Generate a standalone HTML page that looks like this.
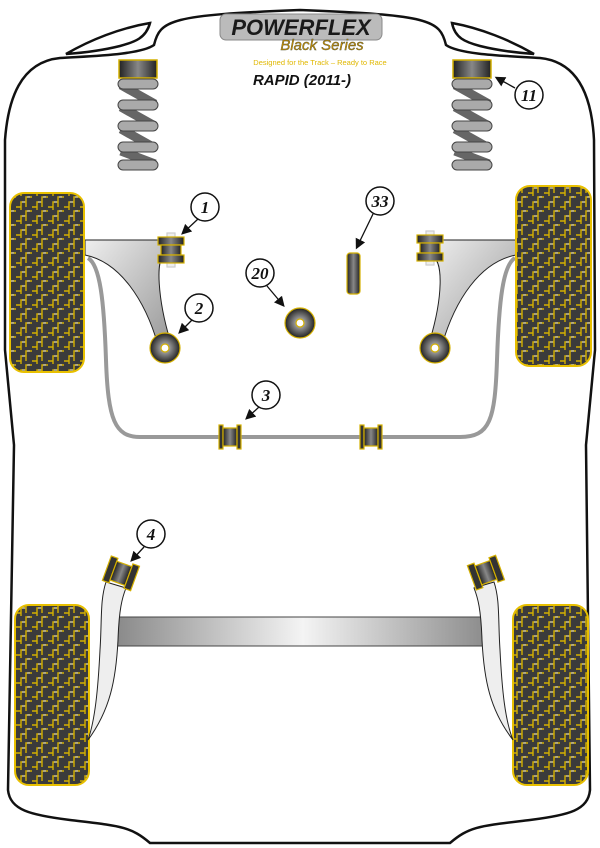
<!DOCTYPE html>
<html><head><meta charset="utf-8"><style>
html,body{margin:0;padding:0;background:#fff;width:600px;height:848px;overflow:hidden}
</style></head><body>
<svg width="600" height="848" viewBox="0 0 600 848" xmlns="http://www.w3.org/2000/svg" font-family="Liberation Serif, serif">
<defs>
<pattern id="tread" width="16" height="14" patternUnits="userSpaceOnUse">
<rect width="16" height="14" fill="#3b3b3b"/>
<path d="M0 11 H5 V6 H10 V1 H16 M5 11 V14 M10 6 V11 M13 1 V0" stroke="#d4b000" stroke-width="1.4" fill="none"/>
<path d="M6 6 H9 M11 1 H14" stroke="#bbb" stroke-width="1.2" fill="none"/>
</pattern>
<linearGradient id="bush" x1="0" x2="1" y1="0" y2="0">
<stop offset="0" stop-color="#222"/><stop offset=".5" stop-color="#888"/><stop offset="1" stop-color="#222"/>
</linearGradient>
<linearGradient id="bar" x1="0" x2="1">
<stop offset="0" stop-color="#8a8a8a"/><stop offset=".5" stop-color="#f4f4f4"/><stop offset="1" stop-color="#8a8a8a"/>
</linearGradient>
<linearGradient id="arm" x1="0" x2="1" y1="0" y2="1">
<stop offset="0" stop-color="#eee"/><stop offset="1" stop-color="#999"/>
</linearGradient>
<radialGradient id="rb"><stop offset=".3" stop-color="#999"/><stop offset="1" stop-color="#222"/></radialGradient>
<marker id="ah" markerWidth="8" markerHeight="8" refX="6" refY="4" orient="auto"><path d="M0 0 L8 4 L0 8z" fill="#111"/></marker>
</defs>

<!-- body outline -->
<path d="M60 58 C90 56 140 55 154 45 C160 20 170 15 300 10 C430 15 440 20 446 45 C460 55 510 56 540 58 C580 62 592 100 594 140 L595 350 L586 445 L590 790 C588 810 570 815 530 820 C480 826 470 826 450 843 L150 843 C130 826 120 826 70 820 C30 815 10 810 8 790 L14 445 L5 350 L5 140 C8 100 20 62 60 58 Z" fill="#fff" stroke="#111" stroke-width="2.5"/>
<!-- headlights -->
<path d="M66 54 C90 40 120 28 150 23 C146 38 135 42 120 46 C100 51 80 53 66 54Z" fill="#fff" stroke="#111" stroke-width="2.5"/>
<path d="M534 54 C510 40 480 28 452 23 C455 38 465 42 480 46 C500 51 520 53 534 54Z" fill="#fff" stroke="#111" stroke-width="2.5"/>

<!-- logo -->
<rect x="220" y="14" width="162" height="26" rx="6" fill="#bbb" stroke="#888"/>
<text x="301" y="35" text-anchor="middle" font-size="22" font-weight="bold" font-style="italic" fill="#1a1a1a" font-family="Liberation Sans, sans-serif">POWERFLEX</text>
<text x="322" y="50" text-anchor="middle" font-size="15" font-style="italic" fill="#c98f00" stroke="#553" stroke-width=".4" font-family="Liberation Sans, sans-serif">Black Series</text>
<text x="320" y="65" text-anchor="middle" font-size="7.5" fill="#e0b800" font-family="Liberation Sans, sans-serif">Designed for the Track – Ready to Race</text>
<text x="302" y="85" text-anchor="middle" font-size="15" font-weight="bold" font-style="italic" fill="#111" font-family="Liberation Sans, sans-serif">RAPID (2011-)</text>

<!-- springs -->
<g id="spL">
<rect x="119" y="60" width="38" height="18" fill="url(#bush)" stroke="#d4b000" stroke-width="1.5"/>
<path d="M121 85 L155 104 M121 107 L155 126 M121 129 L155 148 M121 151 L155 164" stroke="#666" stroke-width="9"/>
<g fill="#aaa" stroke="#444" stroke-width="1">
<rect x="118" y="79" width="40" height="10" rx="5"/><rect x="118" y="100" width="40" height="10" rx="5"/><rect x="118" y="121" width="40" height="10" rx="5"/><rect x="118" y="142" width="40" height="10" rx="5"/><rect x="118" y="160" width="40" height="10" rx="5"/>
</g></g>
<use href="#spL" transform="translate(334 0)"/>

<!-- front anti-roll bar -->
<path d="M88 258 C100 265 104 300 106 360 C108 420 115 437 140 437 L460 437 C490 437 495 420 497 360 C499 300 503 265 515 258" fill="none" stroke="#999" stroke-width="4"/>
<!-- front arms -->
<path d="M85 240 L165 240 L165 255 C155 258 158 300 170 340 L158 345 C145 300 120 262 85 255Z" fill="url(#arm)" stroke="#222" stroke-width="1"/>
<path d="M516 240 L430 240 L430 255 C445 258 442 300 430 340 L442 345 C455 300 480 262 516 255Z" fill="url(#arm)" stroke="#222" stroke-width="1"/>

<!-- tyres -->
<g fill="url(#tread)" stroke="#e8c000" stroke-width="2">
<rect x="10" y="193" width="74" height="179" rx="14"/>
<rect x="516" y="186" width="75" height="180" rx="14"/>
<rect x="15" y="605" width="74" height="180" rx="14"/>
<rect x="513" y="605" width="75" height="180" rx="14"/>
</g>

<!-- bushings -->
<g stroke="#d4b000" stroke-width="1.2">
<rect x="167" y="233" width="8" height="34" fill="#eee" stroke="#ccc"/>
<rect x="158" y="237" width="26" height="8" fill="url(#bush)"/><rect x="161" y="245" width="20" height="10" fill="url(#bush)"/><rect x="158" y="255" width="26" height="8" fill="url(#bush)"/>
<rect x="426" y="231" width="8" height="34" fill="#eee" stroke="#ccc"/>
<rect x="417" y="235" width="26" height="8" fill="url(#bush)"/><rect x="420" y="243" width="20" height="10" fill="url(#bush)"/><rect x="417" y="253" width="26" height="8" fill="url(#bush)"/>
<circle cx="165" cy="348" r="15" fill="url(#rb)"/><circle cx="165" cy="348" r="4" fill="#fff"/>
<circle cx="435" cy="348" r="15" fill="url(#rb)"/><circle cx="435" cy="348" r="4" fill="#fff"/>
<circle cx="300" cy="323" r="15" fill="url(#rb)"/><circle cx="300" cy="323" r="4" fill="#fff"/>
<rect x="347" y="253" width="13" height="41" rx="3" fill="url(#bush)"/>
<rect x="219" y="425" width="4" height="24" fill="#333"/><rect x="223" y="428" width="14" height="18" fill="url(#bush)"/><rect x="237" y="425" width="4" height="24" fill="#333"/>
<rect x="360" y="425" width="4" height="24" fill="#333"/><rect x="364" y="428" width="14" height="18" fill="url(#bush)"/><rect x="378" y="425" width="4" height="24" fill="#333"/>
</g>

<!-- rear crossbar and arms -->
<rect x="117" y="617" width="372" height="29" fill="url(#bar)" stroke="#444"/>
<path d="M106 582 C100 600 102 620 100 650 C98 690 95 720 88 740 C110 710 116 680 118 640 C119 610 122 598 126 588Z" fill="#eee" stroke="#222"/>
<path d="M494 582 C500 600 498 620 500 650 C502 690 505 720 513 740 C490 710 484 680 482 640 C481 610 478 598 474 588Z" fill="#eee" stroke="#222"/>
<g stroke="#d4b000" stroke-width="1.2">
<g transform="rotate(20 120 573)"><rect x="106" y="560" width="7" height="26" fill="#333"/><rect x="113" y="563" width="16" height="20" fill="url(#bush)"/><rect x="129" y="560" width="7" height="26" fill="#333"/></g>
<g transform="rotate(-20 485 573)"><rect x="471" y="560" width="7" height="26" fill="#333"/><rect x="478" y="563" width="16" height="20" fill="url(#bush)"/><rect x="494" y="560" width="7" height="26" fill="#333"/></g>
</g>

<!-- callouts -->
<g fill="#fff" stroke="#111" stroke-width="1.5">
<circle cx="205" cy="207" r="14"/><circle cx="199" cy="308" r="14"/><circle cx="260" cy="273" r="14"/>
<circle cx="380" cy="201" r="14"/><circle cx="266" cy="395" r="14"/><circle cx="529" cy="95" r="14"/><circle cx="151" cy="534" r="14"/>
</g>
<g stroke="#111" stroke-width="1.3" marker-end="url(#ah)">
<line x1="198" y1="219" x2="183" y2="233"/>
<line x1="192" y1="320" x2="180" y2="332"/>
<line x1="267" y1="286" x2="283" y2="305"/>
<line x1="373" y1="214" x2="357" y2="247"/>
<line x1="259" y1="407" x2="247" y2="418"/>
<line x1="515" y1="88" x2="497" y2="78"/>
<line x1="144" y1="547" x2="132" y2="560"/>
</g>
<g font-size="17" font-weight="bold" font-style="italic" text-anchor="middle" fill="#111">
<text x="205" y="213">1</text><text x="199" y="314">2</text><text x="260" y="279">20</text>
<text x="380" y="207">33</text><text x="266" y="401">3</text><text x="529" y="101">11</text><text x="151" y="540">4</text>
</g>
</svg>
</body></html>
